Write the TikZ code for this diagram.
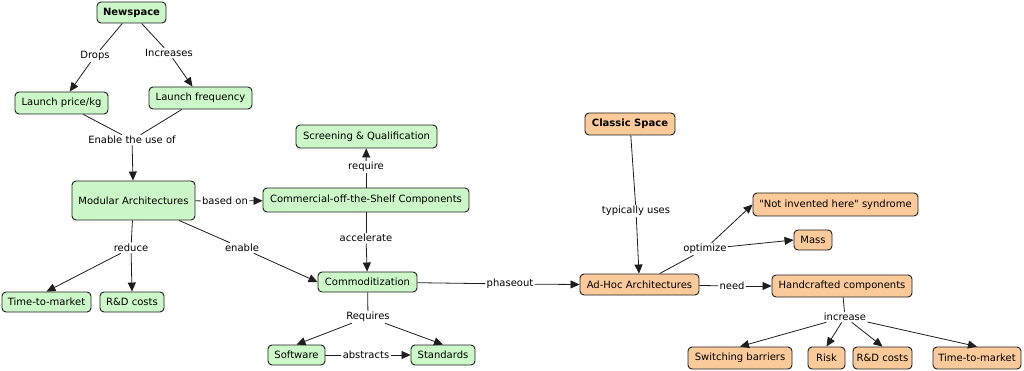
\documentclass[tikz,border=0pt]{standalone}
\usepackage{fontspec}
\setmainfont{DejaVu Sans}[Ligatures=TeXOff]
\usetikzlibrary{arrows.meta}
\definecolor{gfill}{RGB}{204,247,200}
\definecolor{ofill}{RGB}{250,202,154}
\definecolor{edge}{RGB}{30,30,30}
\tikzset{
  cbox/.style={draw=edge, line width=0.9pt, rounded corners=4pt, inner sep=0pt, align=center, font=\fontsize{10}{12}\selectfont},
  gbox/.style={cbox, fill=gfill},
  obox/.style={cbox, fill=ofill},
  lbl/.style={fill=white, inner sep=1.2pt, font=\fontsize{10}{12}\selectfont},
  conn/.style={draw=edge, line width=0.8pt},
  arr/.style={conn, -{Triangle[length=9pt,width=8pt]}},
}
\begin{document}
\begin{tikzpicture}[x=1pt,y=-1pt]
\useasboundingbox (0,0) rectangle (1024,371);
% green nodes
\node[gbox, minimum width=69pt, minimum height=21pt, font=\fontsize{10}{12}\selectfont\bfseries] (news) at (131.5,12.5) {Newspace};
\node[gbox, minimum width=93pt, minimum height=22pt] (lpk) at (61.5,103) {Launch price/kg};
\node[gbox, minimum width=103pt, minimum height=22pt] (lfreq) at (200.5,98) {Launch frequency};
\node[gbox, minimum width=123pt, minimum height=39pt] (mod) at (133.5,200.5) {Modular Architectures};
\node[gbox, minimum width=206pt, minimum height=24pt] (cots) at (366,200) {Commercial-off-the-Shelf Components};
\node[gbox, minimum width=141pt, minimum height=23pt] (scr) at (366.5,136.5) {Screening \& Qualification};
\node[gbox, minimum width=99pt, minimum height=20pt] (comm) at (367.5,282) {Commoditization};
\node[gbox, minimum width=89pt, minimum height=20pt] (ttma) at (46.5,302) {Time-to-market};
\node[gbox, minimum width=64pt, minimum height=20pt] (rda) at (132,302) {R\&D costs};
\node[gbox, minimum width=57pt, minimum height=20pt] (sw) at (296.5,355) {Software};
\node[gbox, minimum width=64pt, minimum height=20pt] (std) at (443,355) {Standards};
% orange nodes
\node[obox, minimum width=90pt, minimum height=22pt, font=\fontsize{10}{12}\selectfont\bfseries] (classic) at (630,124) {Classic Space};
\node[obox, minimum width=119pt, minimum height=21pt] (adhoc) at (639.5,284.5) {Ad-Hoc Architectures};
\node[obox, minimum width=165pt, minimum height=23pt] (nih) at (835.5,204.5) {"Not invented here" syndrome};
\node[obox, minimum width=38pt, minimum height=20pt] (mass) at (813,240) {Mass};
\node[obox, minimum width=140pt, minimum height=22pt] (hand) at (842,286) {Handcrafted components};
\node[obox, minimum width=104pt, minimum height=22pt] (swb) at (740,358) {Switching barriers};
\node[obox, minimum width=37pt, minimum height=22pt] (risk) at (826.5,358) {Risk};
\node[obox, minimum width=59pt, minimum height=22pt] (rdb) at (882.5,358) {R\&D costs};
\node[obox, minimum width=88pt, minimum height=22pt] (ttmb) at (977,358) {Time-to-market};
% labels
\node[lbl] (drops) at (95,56) {Drops};
\node[lbl] (incr) at (169,53) {Increases};
\node[lbl] (euse) at (132,140) {Enable the use of};
\node[lbl] (based) at (225,201) {based on};
\node[lbl] (req) at (366,167) {require};
\node[lbl] (acc) at (366,238) {accelerate};
\node[lbl] (reduce) at (131,248) {reduce};
\node[lbl] (enable) at (242,248) {enable};
\node[lbl] (phase) at (510,284) {phaseout};
\node[lbl] (requires) at (368,317) {Requires};
\node[lbl] (abs) at (366,355) {abstracts};
\node[lbl] (typ) at (636,211) {typically uses};
\node[lbl] (opt) at (705,249) {optimize};
\node[lbl] (need) at (732,286) {need};
\node[lbl] (inc) at (845,317) {increase};
% connectors
\draw[conn] (news) -- (drops);
\draw[arr] (drops) -- (lpk);
\draw[conn] (news) -- (incr);
\draw[arr] (incr) -- (lfreq);
\draw[conn] (lpk) -- (euse);
\draw[conn] (lfreq) -- (euse);
\draw[arr] (euse) -- (mod);
\draw[conn] (mod) -- (based);
\draw[arr] (based) -- (cots);
\draw[conn] (cots) -- (req);
\draw[arr] (req) -- (scr);
\draw[conn] (cots) -- (acc);
\draw[arr] (acc) -- (comm);
\draw[conn] (mod) -- (reduce);
\draw[arr] (reduce) -- (ttma.north);
\draw[arr] (reduce) -- (rda.north);
\draw[conn] (mod) -- (enable);
\draw[arr] (enable) -- (comm.west);
\draw[conn] (comm) -- (phase);
\draw[arr] (phase) -- (adhoc.west);
\draw[conn] (comm) -- (requires);
\draw[arr] (requires) -- (sw.north);
\draw[arr] (requires) -- (std.north);
\draw[conn] (sw) -- (abs);
\draw[arr] (abs) -- (std);
\draw[conn] (classic) -- (typ);
\draw[arr] (typ) -- (adhoc);
\draw[conn] (adhoc) -- (opt);
\draw[arr] (opt) -- (nih.west);
\draw[arr] (opt) -- (mass.west);
\draw[conn] (adhoc) -- (need);
\draw[arr] (need) -- (hand);
\draw[conn] (hand) -- (inc);
\draw[arr] (inc) -- (swb.north);
\draw[arr] (inc) -- (risk.north);
\draw[arr] (inc) -- (rdb.north);
\draw[arr] (inc) -- (ttmb.north);
\end{tikzpicture}
\end{document}
